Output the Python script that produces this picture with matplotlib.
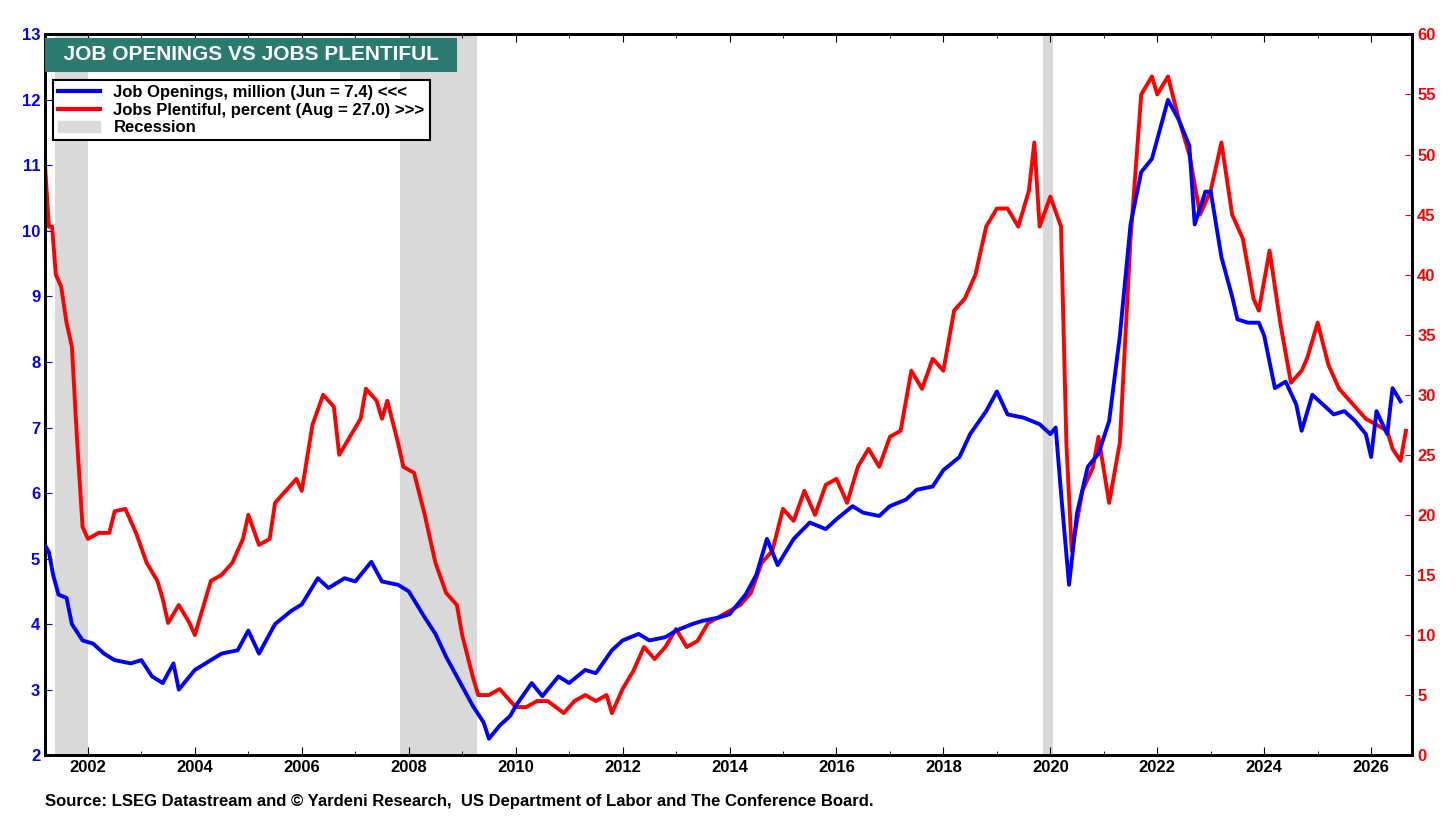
import matplotlib
matplotlib.use('Agg')
import matplotlib.pyplot as plt
from matplotlib.patches import Patch
from matplotlib.lines import Line2D

# 職缺數 (百萬)
job_openings = [
    (2001.2, 5.2), (2001.27, 5.1), (2001.35, 4.75), (2001.45, 4.45), (2001.6, 4.4), (2001.7, 4.0),
    (2001.9, 3.75), (2002.1, 3.7), (2002.3, 3.55), (2002.5, 3.45), (2002.8, 3.4), (2003.0, 3.45),
    (2003.2, 3.2), (2003.4, 3.1), (2003.6, 3.4), (2003.7, 3.0), (2004.0, 3.3), (2004.3, 3.45),
    (2004.5, 3.55), (2004.8, 3.6), (2005.0, 3.9), (2005.2, 3.55), (2005.5, 4.0), (2005.8, 4.2),
    (2006.0, 4.3), (2006.3, 4.7), (2006.5, 4.55), (2006.8, 4.7), (2007.0, 4.65), (2007.3, 4.95),
    (2007.5, 4.65), (2007.8, 4.6), (2008.0, 4.5), (2008.3, 4.1), (2008.5, 3.85), (2008.7, 3.5),
    (2008.9, 3.2), (2009.2, 2.75), (2009.4, 2.5), (2009.5, 2.25), (2009.7, 2.45), (2009.9, 2.6),
    (2010.0, 2.75), (2010.3, 3.1), (2010.5, 2.9), (2010.8, 3.2), (2011.0, 3.1), (2011.3, 3.3),
    (2011.5, 3.25), (2011.8, 3.6), (2012.0, 3.75), (2012.3, 3.85), (2012.5, 3.75), (2012.8, 3.8),
    (2013.0, 3.9), (2013.3, 4.0), (2013.5, 4.05), (2013.8, 4.1), (2014.0, 4.15), (2014.3, 4.45),
    (2014.5, 4.75), (2014.7, 5.3), (2014.9, 4.9), (2015.2, 5.3), (2015.5, 5.55), (2015.8, 5.45),
    (2016.0, 5.6), (2016.3, 5.8), (2016.5, 5.7), (2016.8, 5.65), (2017.0, 5.8), (2017.3, 5.9),
    (2017.5, 6.05), (2017.8, 6.1), (2018.0, 6.35), (2018.3, 6.55), (2018.5, 6.9), (2018.8, 7.25),
    (2019.0, 7.55), (2019.2, 7.2), (2019.5, 7.15), (2019.8, 7.05), (2020.0, 6.9), (2020.1, 7.0),
    (2020.2, 6.0), (2020.35, 4.6), (2020.5, 5.7), (2020.7, 6.4), (2020.9, 6.6), (2021.1, 7.1),
    (2021.3, 8.4), (2021.5, 10.1), (2021.7, 10.9), (2021.9, 11.1), (2022.0, 11.4), (2022.2, 12.0),
    (2022.4, 11.7), (2022.6, 11.3), (2022.7, 10.1), (2022.9, 10.6), (2023.0, 10.6), (2023.2, 9.6),
    (2023.4, 9.0), (2023.5, 8.65), (2023.7, 8.6), (2023.9, 8.6), (2024.0, 8.4), (2024.2, 7.6),
    (2024.4, 7.7), (2024.6, 7.35), (2024.7, 6.95), (2024.9, 7.5), (2025.1, 7.35), (2025.3, 7.2),
    (2025.5, 7.25), (2025.7, 7.1), (2025.9, 6.9), (2026.0, 6.55), (2026.1, 7.25), (2026.3, 6.9),
    (2026.4, 7.6), (2026.55, 7.4),
]

# 工作充足 (百分比)
jobs_plentiful = [
    (2001.2, 49), (2001.27, 44), (2001.33, 44), (2001.4, 40), (2001.5, 39), (2001.6, 36), (2001.7, 34),
    (2001.8, 26), (2001.9, 19), (2002.0, 18), (2002.2, 18.5), (2002.4, 18.5), (2002.5, 20.3),
    (2002.7, 20.5), (2002.9, 18.5), (2003.1, 16), (2003.3, 14.5), (2003.4, 13), (2003.5, 11),
    (2003.7, 12.5), (2003.9, 11), (2004.0, 10), (2004.2, 13), (2004.3, 14.5), (2004.5, 15),
    (2004.7, 16), (2004.9, 18), (2005.0, 20), (2005.2, 17.5), (2005.4, 18), (2005.5, 21),
    (2005.7, 22), (2005.9, 23), (2006.0, 22), (2006.2, 27.5), (2006.4, 30), (2006.6, 29),
    (2006.7, 25), (2006.9, 26.5), (2007.1, 28), (2007.2, 30.5), (2007.4, 29.5), (2007.5, 28),
    (2007.6, 29.5), (2007.8, 26), (2007.9, 24), (2008.1, 23.5), (2008.3, 20), (2008.5, 16),
    (2008.7, 13.5), (2008.9, 12.5), (2009.0, 10), (2009.2, 6.5), (2009.3, 5), (2009.5, 5),
    (2009.7, 5.5), (2009.9, 4.5), (2010.0, 4), (2010.2, 4), (2010.4, 4.5), (2010.6, 4.5),
    (2010.9, 3.5), (2011.1, 4.5), (2011.3, 5), (2011.5, 4.5), (2011.7, 5), (2011.8, 3.5),
    (2012.0, 5.5), (2012.2, 7), (2012.4, 9), (2012.6, 8), (2012.8, 9), (2013.0, 10.5),
    (2013.2, 9), (2013.4, 9.5), (2013.6, 11), (2013.8, 11.5), (2014.0, 12), (2014.2, 12.5),
    (2014.4, 13.5), (2014.6, 16), (2014.8, 17), (2015.0, 20.5), (2015.2, 19.5), (2015.4, 22),
    (2015.6, 20), (2015.8, 22.5), (2016.0, 23), (2016.2, 21), (2016.4, 24), (2016.6, 25.5),
    (2016.8, 24), (2017.0, 26.5), (2017.2, 27), (2017.4, 32), (2017.6, 30.5), (2017.8, 33),
    (2018.0, 32), (2018.2, 37), (2018.4, 38), (2018.6, 40), (2018.8, 44), (2019.0, 45.5),
    (2019.2, 45.5), (2019.4, 44), (2019.6, 47), (2019.7, 51), (2019.8, 44), (2020.0, 46.5),
    (2020.2, 44), (2020.3, 26), (2020.4, 17), (2020.6, 22), (2020.8, 24), (2020.9, 26.5),
    (2021.1, 21), (2021.3, 26), (2021.5, 43), (2021.7, 55), (2021.9, 56.5), (2022.0, 55),
    (2022.2, 56.5), (2022.4, 53), (2022.6, 50), (2022.8, 45), (2023.0, 47), (2023.2, 51),
    (2023.4, 45), (2023.6, 43), (2023.8, 38), (2023.9, 37), (2024.1, 42), (2024.3, 36),
    (2024.5, 31), (2024.7, 32), (2024.8, 33), (2025.0, 36), (2025.2, 32.5), (2025.4, 30.5),
    (2025.5, 30), (2025.7, 29), (2025.9, 28), (2026.1, 27.5), (2026.3, 27), (2026.4, 25.5),
    (2026.55, 24.5), (2026.65, 27),
]

recessions = [(2001.39, 2002.0), (2007.83, 2009.27), (2019.87, 2020.05)]

plt.rcParams['font.family'] = ['Liberation Sans', 'DejaVu Sans']
plt.rcParams['font.weight'] = 'bold'

fig = plt.figure(figsize=(14.56, 8.19), dpi=100)
ax = fig.add_axes([0.031, 0.078, 0.939, 0.88])
ax2 = ax.twinx()
ax.set_zorder(ax2.get_zorder() + 1)
ax.patch.set_visible(False)

for a, b in recessions:
    ax2.axvspan(a, b, color='#d9d9d9', zorder=0, lw=0)

ax2.plot([p[0] for p in jobs_plentiful], [p[1] for p in jobs_plentiful], color='#ff0000', lw=2.8, zorder=2)
ax.plot([p[0] for p in job_openings], [p[1] for p in job_openings], color='#0000ff', lw=2.8, zorder=3)

ax.set_xlim(2001.2, 2026.77)
ax.set_ylim(2, 13)
ax2.set_ylim(0, 60)
ax.set_xticks(range(2002, 2027, 2))
ax.set_xticks(range(2002, 2027), minor=True)
ax.set_yticks(range(2, 14))
ax2.set_yticks(range(0, 61, 5))
ax.tick_params(axis='y', colors='#0000ff', labelsize=12, direction='in', length=5)
ax.tick_params(axis='x', labelsize=12, direction='in', length=6, top=True)
ax.tick_params(axis='x', which='minor', direction='in', length=3, top=True)
ax2.tick_params(axis='y', colors='#ff0000', labelsize=12, direction='in', length=5)
for s in ax.spines.values():
    s.set_linewidth(2)
for s in ax2.spines.values():
    s.set_linewidth(2)

ax.text(0.005, 0.985, '  JOB OPENINGS VS JOBS PLENTIFUL  ', transform=ax.transAxes, ha='left', va='top',
        color='white', fontsize=15, fontweight='bold',
        bbox=dict(boxstyle='square,pad=0.35', fc='#2b7a6f', ec='none'), zorder=10)

handles = [
    Line2D([], [], color='#0000ff', lw=3, label='Job Openings, million (Jun = 7.4) <<<'),
    Line2D([], [], color='#ff0000', lw=3, label='Jobs Plentiful, percent (Aug = 27.0) >>>'),
    Patch(color='#d9d9d9', label='Recession'),
]
leg = ax.legend(handles=handles, loc='upper left', bbox_to_anchor=(0.0, 0.948), fontsize=12,
                frameon=True, fancybox=False, edgecolor='black', framealpha=1,
                handlelength=2.5, borderpad=0.3, labelspacing=0.15)
leg.get_frame().set_linewidth(1.5)

fig.text(0.031, 0.012, 'Source: LSEG Datastream and © Yardeni Research,  US Department of Labor and The Conference Board.',
         fontsize=12, fontweight='bold', ha='left', va='bottom')

fig.savefig('out.png', dpi=100)
